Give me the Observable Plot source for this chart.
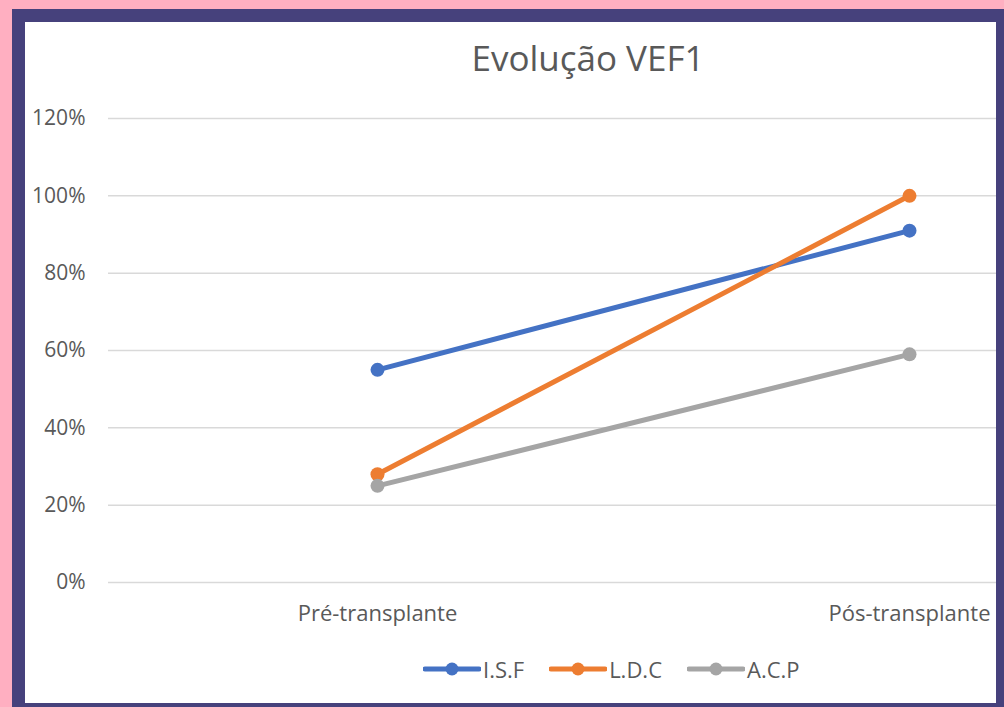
<!DOCTYPE html>
<html>
<head>
<meta charset="utf-8">
<script src="https://cdn.jsdelivr.net/npm/d3@7"></script>
<script src="https://cdn.jsdelivr.net/npm/@observablehq/plot@0.6"></script>
<style>
  html, body { margin: 0; padding: 0; }
  body { width: 1004px; height: 707px; background: #ffafc1; position: relative; overflow: hidden; font-family: "Open Sans", "Noto Sans", sans-serif; }
  #frame { position: absolute; left: 12px; top: 9px; width: 992px; height: 698px; background: #46417c; }
  #panel { position: absolute; left: 25px; top: 22px; width: 971px; height: 681px; background: #fff; overflow: hidden; }
  #title { position: absolute; left: 0; width: 100%; top: 12px; text-align: center; font-size: 35px; color: #595959; padding-left: 155px; box-sizing: border-box; }
  #chart { position: absolute; left: 0; top: 0; }
  #legend { position: absolute; top: 632px; left: 398px; display: flex; align-items: center; font-size: 22px; color: #595959; }
  #legend .item { display: flex; align-items: center; margin-right: 25px; }
  #legend svg { display: block; }
</style>
</head>
<body>
<div id="frame"></div>
<div id="panel">
  <div id="chart"></div>
  <div id="title">Evolução VEF1</div>
  <div id="legend"></div>
</div>
<script>
const categories = ["Pré-transplante", "Pós-transplante"];
const seriesNames = ["I.S.F", "L.D.C", "A.C.P"];
const seriesColors = ["#4472c4", "#ed7d31", "#a5a5a5"];
const isf = [0.55, 0.91];
const ldc = [0.28, 1.00];
const acp = [0.25, 0.59];
const yTicks = [0, 0.2, 0.4, 0.6, 0.8, 1.0, 1.2];

const seriesValues = [isf, ldc, acp];
const data = [];
seriesNames.forEach((s, i) => {
  categories.forEach((c, j) => data.push({series: s, cat: c, value: seriesValues[i][j]}));
});

const chart = Plot.plot({
  width: 971,
  height: 681,
  marginLeft: 83,
  marginRight: 0,
  marginTop: 96,
  marginBottom: 121,
  style: {fontFamily: "'Open Sans', 'Noto Sans', sans-serif", background: "transparent", overflow: "visible"},
  x: {type: "point", domain: categories, range: [352, 884], padding: 0, label: null},
  y: {domain: [0, 1.2], label: null},
  color: {domain: seriesNames, range: seriesColors},
  marks: [
    Plot.ruleY(yTicks, {stroke: "#d9d9d9", strokeWidth: 1.5}),
    Plot.axisY({ticks: yTicks, tickFormat: d => Math.round(d * 100) + "%", tickSize: 0, tickPadding: 23, fontSize: 21, fill: "#595959", label: null}),
    Plot.axisX({tickSize: 0, tickPadding: 23, fontSize: 22, fill: "#595959", label: null}),
    Plot.line(data, {x: "cat", y: "value", z: "series", stroke: "series", strokeWidth: 5}),
    Plot.dot(data, {x: "cat", y: "value", fill: "series", r: 7})
  ]
});
document.getElementById("chart").appendChild(chart);

const legend = document.getElementById("legend");
seriesNames.forEach((s, i) => {
  const item = document.createElement("div");
  item.className = "item";
  item.innerHTML = `<svg width="58" height="16"><line x1="2" y1="8" x2="56" y2="8" stroke="${seriesColors[i]}" stroke-width="5" stroke-linecap="round"/><circle cx="29" cy="8" r="6.5" fill="${seriesColors[i]}"/></svg><span style="margin-left:2px">${s}</span>`;
  legend.appendChild(item);
});
</script>
</body>
</html>
